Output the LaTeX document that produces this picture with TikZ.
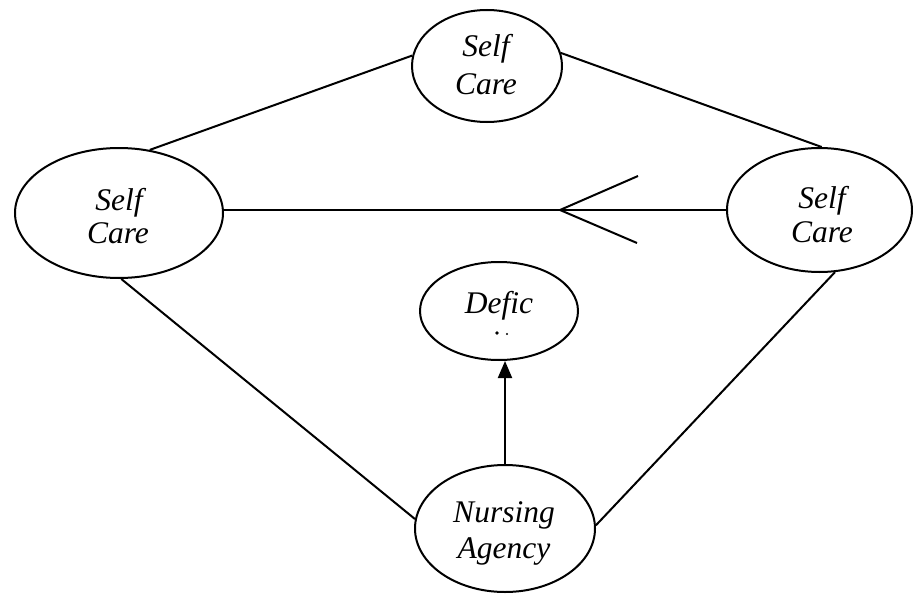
\documentclass[tikz,border=0pt]{standalone}
\usepackage{fontspec}
\setmainfont{Liberation Serif}
\usetikzlibrary{shapes.geometric,arrows.meta}
\begin{document}
\begin{tikzpicture}[x=1pt,y=-1pt,
  line width=2pt,
  oval/.style={draw,ellipse,inner sep=0pt},
  lbl/.style={anchor=base,inner sep=0pt,font=\fontsize{31.5}{36}\selectfont\itshape},
  dotmark/.style={fill,circle,inner sep=0pt,minimum size=3.6pt}]
\useasboundingbox (0,0) rectangle (913,594);
% ellipses
\node[oval,minimum width=150pt,minimum height=112pt] (T) at (487,66) {};
\node[oval,minimum width=208pt,minimum height=130pt] (L) at (119,213) {};
\node[oval,minimum width=185pt,minimum height=124pt] (R) at (819.5,210) {};
\node[oval,minimum width=158pt,minimum height=98pt] (D) at (499,311) {};
\node[oval,minimum width=180pt,minimum height=127pt] (N) at (505,528.5) {};
% labels
\node[lbl] (t1) at (486,57) {Self};
\node[lbl] (t2) at (486,95) {Care};
\node[lbl] (l1) at (119,210) {Self};
\node[lbl] (l2) at (118,243) {Care};
\node[lbl] (r1) at (822,208) {Self};
\node[lbl] (r2) at (822,242) {Care};
\node[lbl] (d1) at (499,313) {Defic};
\node[dotmark] (d2) at (497,333) {};
\node[dotmark,minimum size=2.2pt] (d3) at (507,334) {};
\node[lbl] (n1) at (504,522) {Nursing};
\node[lbl] (n2) at (504,558) {Agency};
% connectors
\draw (L.64) -- (T.172);
\draw (T.10) -- (R.88);
\draw (R.west -| L.east) -- (R.west);
\draw (L.-88) -- (N.174);
\draw (R.-76) -- (N.2);
\draw[-{Triangle[width=14pt,length=17pt]}] (N.north) -- (N.north |- D.south);
% chevron on the horizontal line
\coordinate (tip) at (560,210);
\coordinate (p1) at (638,176);
\coordinate (p2) at (637,243);
\draw (p1) -- (tip) -- (p2);
\end{tikzpicture}
\end{document}
